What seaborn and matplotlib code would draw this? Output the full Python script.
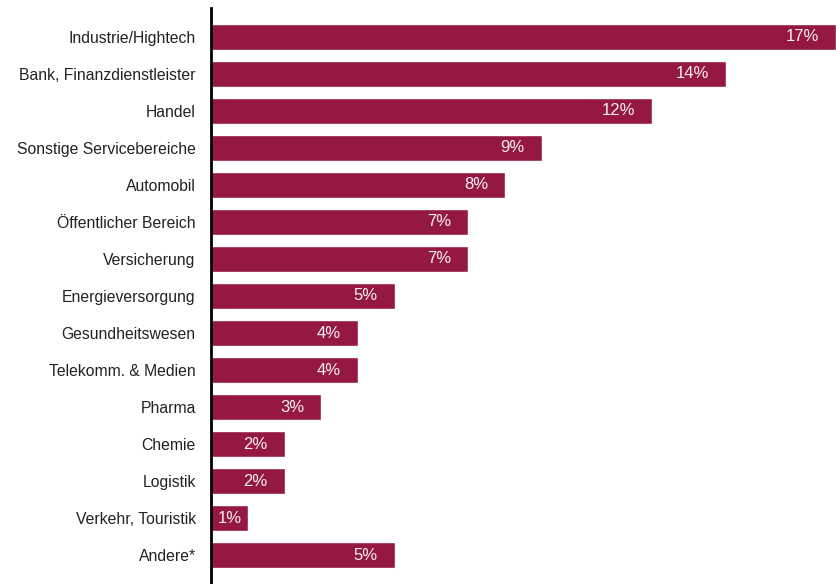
import matplotlib
matplotlib.use("Agg")
import matplotlib.pyplot as plt
import seaborn as sns
import pandas as pd

categories = [
    "Industrie/Hightech",
    "Bank, Finanzdienstleister",
    "Handel",
    "Sonstige Servicebereiche",
    "Automobil",
    "Öffentlicher Bereich",
    "Versicherung",
    "Energieversorgung",
    "Gesundheitswesen",
    "Telekomm. & Medien",
    "Pharma",
    "Chemie",
    "Logistik",
    "Verkehr, Touristik",
    "Andere*",
]
shares = [17, 14, 12, 9, 8, 7, 7, 5, 4, 4, 3, 2, 2, 1, 5]

bar_color = "#951840"

sns.set_theme(style="white")
plt.rcParams["font.family"] = ["Liberation Sans", "DejaVu Sans"]

df = pd.DataFrame({"Branche": categories, "Anteil": shares})

fig = plt.figure(figsize=(8.37, 5.84), dpi=100)
ax = fig.add_axes([211 / 837, 0.0, 625 / 837, 576 / 584])

sns.barplot(data=df, x="Anteil", y="Branche", color=bar_color,
            saturation=1, width=0.7, ax=ax, orient="h")

ax.set_xlim(0, 17)
ax.set_ylim(len(categories) - 1 + 0.77, -0.77)
ax.set_xlabel("")
ax.set_ylabel("")
ax.set_xticks([])
ax.tick_params(axis="y", length=0, pad=11, labelsize=11.3, labelcolor="#222222")

for side in ["top", "right", "bottom"]:
    ax.spines[side].set_visible(False)
ax.spines["left"].set_color("#000000")
ax.spines["left"].set_linewidth(2)

px_per_unit = 625 / 17
for i, v in enumerate(shares):
    label = f"{v}%"
    if v * px_per_unit < 60:
        ax.text(v / 2, i, label, ha="center", va="center",
                color="#f4f0f2", fontsize=12)
    else:
        ax.annotate(label, xy=(v, i), xytext=(-12.2, 0),
                    textcoords="offset points", ha="right", va="center",
                    color="#f4f0f2", fontsize=12)

fig.savefig("out.png", dpi=100)
